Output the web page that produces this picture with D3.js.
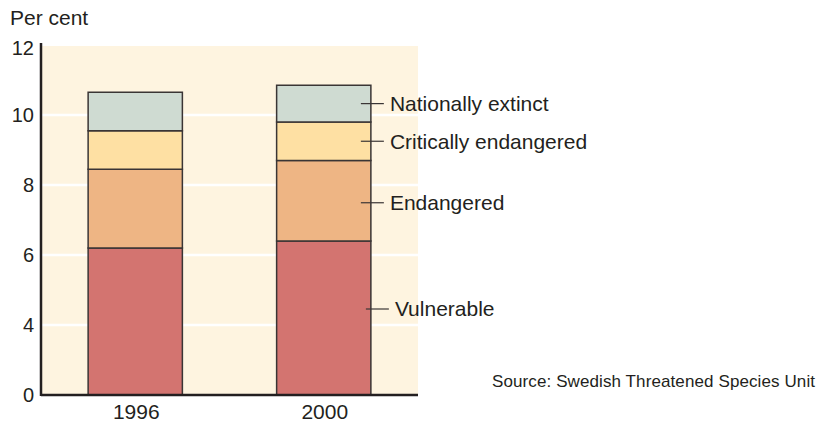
<!DOCTYPE html>
<html>
<head>
<meta charset="utf-8">
<title>Threatened species</title>
<script src="https://cdn.jsdelivr.net/npm/d3@7"></script>
<style>
  body { margin: 0; background: #fff; }
  text { font-family: "Liberation Sans", Arial, sans-serif; fill: #231f20; }
</style>
</head>
<body>
<div id="chart"></div>
<script>
// data (per cent)
var years = ["1996", "2000"];
var categories = ["Vulnerable", "Endangered", "Critically endangered", "Nationally extinct"];
var vulnerable = [6.2, 6.4];
var endangered = [2.25, 2.3];
var critical = [1.1, 1.1];
var extinct = [1.1, 1.05];
var yTicks = [0, 4, 6, 8, 10, 12];

var colors = ["#d37470", "#eeb584", "#fee0a3", "#cfdbd2"];

var width = 817, height = 423;
var svg = d3.select("#chart").append("svg")
    .attr("width", width).attr("height", height);

var plotLeft = 41, plotRight = 418, plotBottom = 395, plotTop = 45;

var x = d3.scaleBand().domain(years).range([plotLeft, plotRight])
    .paddingInner(0.5).paddingOuter(0.25);
// axis spaces 0-4 like a single 2-unit step
var y = d3.scaleLinear().domain([0, 4, 12]).range([plotBottom, 325, plotTop]);

var rows = years.map(function(yr, i) {
  return { year: yr, Vulnerable: vulnerable[i], Endangered: endangered[i],
    "Critically endangered": critical[i], "Nationally extinct": extinct[i] };
});
var stacked = d3.stack().keys(categories)(rows);

// plot background
svg.append("rect").attr("x", plotLeft).attr("y", plotTop + 1)
    .attr("width", plotRight - plotLeft).attr("height", plotBottom - plotTop - 1)
    .attr("fill", "#fef4e0");

// white gridlines
svg.selectAll(".grid").data(yTicks.filter(function(d) { return d > 0 && d < 12; }))
  .enter().append("line")
    .attr("x1", plotLeft).attr("x2", plotRight)
    .attr("y1", function(d) { return y(d); }).attr("y2", function(d) { return y(d); })
    .attr("stroke", "#fff").attr("stroke-width", 2.5);

// bars
svg.selectAll(".layer").data(stacked).enter().append("g")
    .attr("fill", function(d, i) { return colors[i]; })
  .selectAll("rect").data(function(d) { return d; }).enter().append("rect")
    .attr("x", function(d) { return x(d.data.year); })
    .attr("width", x.bandwidth())
    .attr("y", function(d) { return y(d[1]); })
    .attr("height", function(d) { return y(d[0]) - y(d[1]); })
    .attr("stroke", "#3a3535").attr("stroke-width", 1.5);

// axes
svg.append("line").attr("x1", plotLeft).attr("x2", plotLeft)
    .attr("y1", plotTop - 2).attr("y2", plotBottom + 1)
    .attr("stroke", "#231f20").attr("stroke-width", 2.5);
svg.append("line").attr("x1", plotLeft).attr("x2", plotRight)
    .attr("y1", plotBottom).attr("y2", plotBottom)
    .attr("stroke", "#231f20").attr("stroke-width", 2.5);

svg.selectAll(".ytick").data(yTicks).enter().append("text")
    .attr("x", 34)
    .attr("y", function(d) { return Math.max(y(d), 48); })
    .attr("dy", "0.35em")
    .attr("text-anchor", "end")
    .style("font-size", "20px")
    .text(function(d) { return d; });

svg.append("text").attr("x", 10).attr("y", 25)
    .style("font-size", "21px").text("Per cent");

svg.selectAll(".xtick").data(years).enter().append("text")
    .attr("x", function(d) { return x(d) + x.bandwidth() / 2 + 1; })
    .attr("y", 419)
    .attr("text-anchor", "middle")
    .style("font-size", "21px")
    .text(function(d) { return d; });

// labels for the 2000 bar
var last = stacked.map(function(s) { return s[s.length - 1]; });
var xr = x(years[1]) + x.bandwidth();
var lab = svg.selectAll(".lab").data(last).enter().append("g")
    .attr("transform", function(d, i) {
      var m = (y(d[0]) + y(d[1])) / 2;
      if (i === 0) m -= 9;
      if (i === 1) m += 2;
      return "translate(0," + m + ")";
    });
lab.append("line")
    .attr("x1", function(d, i) { return i === 0 ? xr - 5 : xr - 10; })
    .attr("x2", function(d, i) { return i === 0 ? xr + 18 : xr + 13; })
    .attr("stroke", "#3a3535").attr("stroke-width", 1.2);
lab.append("text")
    .attr("x", function(d, i) { return i === 0 ? xr + 24 : xr + 19; })
    .attr("dy", "0.35em")
    .style("font-size", "21px")
    .text(function(d, i) { return categories[i]; });

svg.append("text").attr("x", 815).attr("y", 387)
    .attr("text-anchor", "end")
    .style("font-size", "17px")
    .attr("textLength", 323)
    .text("Source: Swedish Threatened Species Unit");
</script>
</body>
</html>
